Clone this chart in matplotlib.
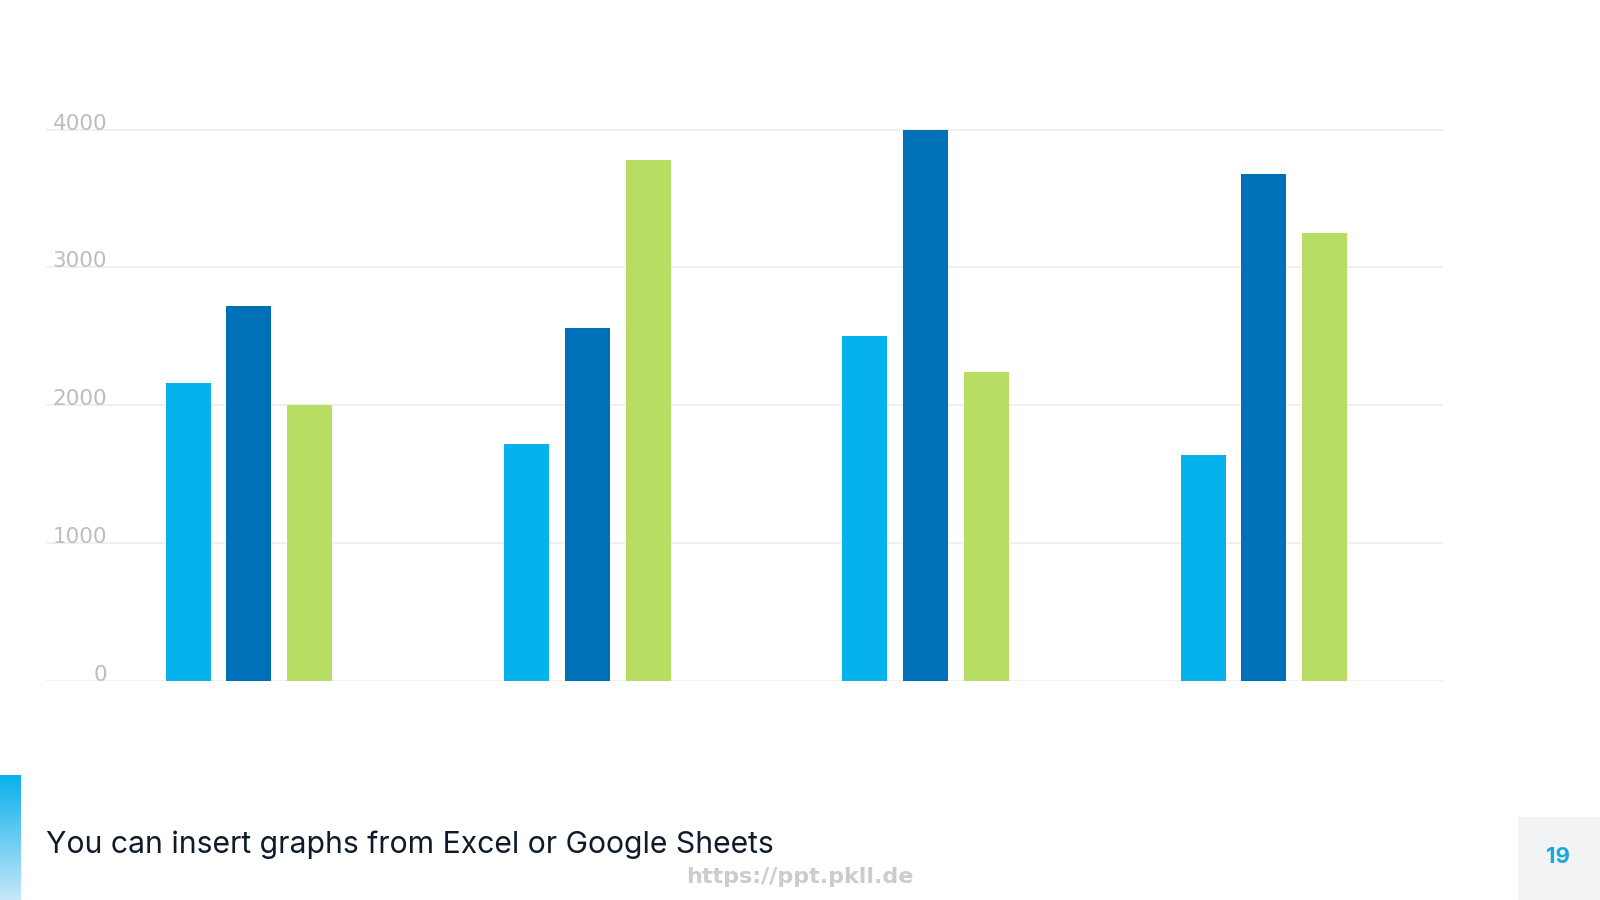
import matplotlib
matplotlib.use("Agg")
import matplotlib.pyplot as plt
import numpy as np
from matplotlib.patches import Rectangle
from matplotlib.colors import LinearSegmentedColormap

categories = ["Group 1", "Group 2", "Group 3", "Group 4"]
series_a = [2160, 1720, 2500, 1640]
series_b = [2720, 2560, 4000, 3680]
series_c = [2000, 3780, 2240, 3250]
y_ticks = [0, 1000, 2000, 3000, 4000]
title = "You can insert graphs from Excel or Google Sheets"
page_number = "19"
watermark = "https://ppt.pkll.de"

colors = ["#05B2EC", "#0071B9", "#B8DD63"]

fig = plt.figure(figsize=(16, 9), dpi=100)
fig.patch.set_facecolor("white")

ax = fig.add_axes([0.02875, 0.2438, 0.902 - 0.02875, 0.862 - 0.2438])
x = np.arange(len(categories))
w = 0.133
off = 0.18
for i, (vals, c) in enumerate(zip([series_a, series_b, series_c], colors)):
    ax.bar(x + (i - 1) * off, vals, width=w, color=c, zorder=3)

ax.set_xlim(-0.6, 3.53)
ax.set_ylim(0, 4040)
ax.set_yticks(y_ticks)
ax.set_yticklabels([str(t) for t in y_ticks])
ax.set_xticks([])
for s in ax.spines.values():
    s.set_visible(False)
ax.yaxis.grid(True, color="#EDEDED", linewidth=1.2, zorder=0)
ax.set_axisbelow(True)
ax.tick_params(axis="y", length=0, pad=-44, labelsize=15.5, labelcolor="#BDBDBD")
for lbl in ax.get_yticklabels():
    lbl.set_verticalalignment("baseline")
    lbl.set_fontfamily("DejaVu Sans")

# left accent gradient bar
grad = LinearSegmentedColormap.from_list("g", ["#0AB0EC", "#C4E8F9"])
gax = fig.add_axes([0, 0, 20.4 / 1600, (900 - 775) / 900])
gax.imshow(np.linspace(0, 1, 100).reshape(-1, 1), aspect="auto", cmap=grad)
gax.axis("off")

# page number box
fig.patches.append(Rectangle((1518 / 1600, 0), 82 / 1600, 83 / 900,
                             transform=fig.transFigure, facecolor="#F1F3F5",
                             edgecolor="none", zorder=0))
fig.text(1558 / 1600, 1 - 857 / 900, page_number, ha="center", va="center",
         fontsize=16, color="#1BA6E0", fontweight="bold", family="Inter")

fig.text(46 / 1600, 1 - 845 / 900, title, ha="left", va="center",
         fontsize=21.7, color="#0D1B2A", family="Inter")

fig.text(800 / 1600, 1 - 877 / 900, watermark, ha="center", va="center",
         fontsize=16, color="#CCCCCC", family="DejaVu Sans", fontweight="bold")

fig.savefig("out.png", dpi=100, facecolor="white")
